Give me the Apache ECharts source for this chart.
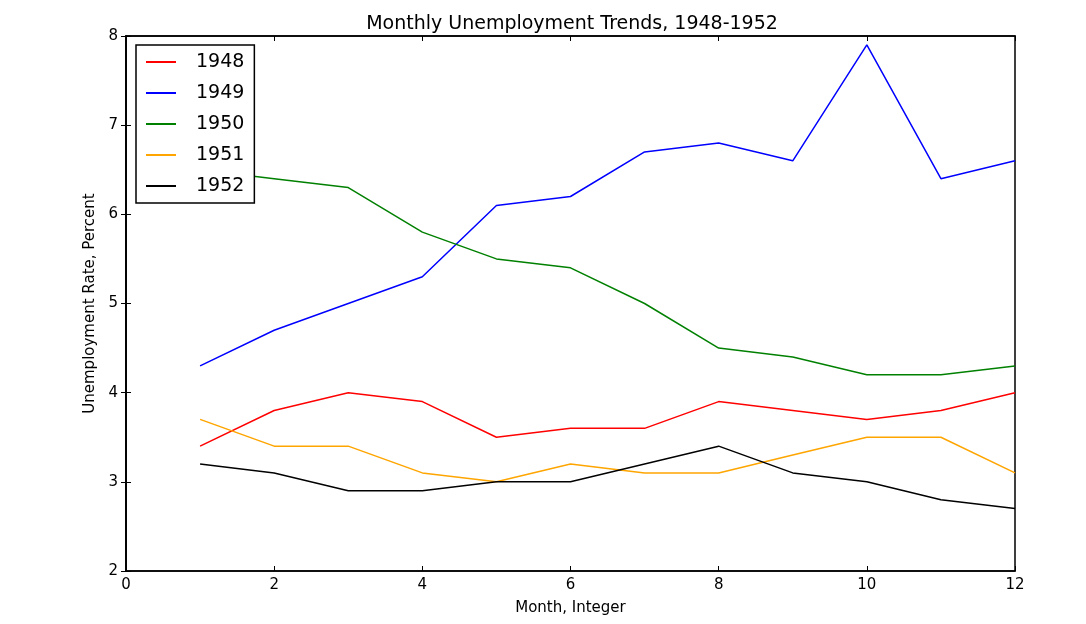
<!DOCTYPE html>
<html>
<head>
<meta charset="utf-8">
<script src="https://cdn.jsdelivr.net/npm/echarts@6/dist/echarts.min.js"></script>
<style>html,body{margin:0;padding:0;background:#fff;}#c{width:1086px;height:624px;}</style>
</head>
<body>
<div id="c"></div>
<script>
const months = [1,2,3,4,5,6,7,8,9,10,11,12];
const years = ['1948','1949','1950','1951','1952'];
const y1948 = [3.4,3.8,4.0,3.9,3.5,3.6,3.6,3.9,3.8,3.7,3.8,4.0];
const y1949 = [4.3,4.7,5.0,5.3,6.1,6.2,6.7,6.8,6.6,7.9,6.4,6.6];
const y1950 = [6.5,6.4,6.3,5.8,5.5,5.4,5.0,4.5,4.4,4.2,4.2,4.3];
const y1951 = [3.7,3.4,3.4,3.1,3.0,3.2,3.1,3.1,3.3,3.5,3.5,3.1];
const y1952 = [3.2,3.1,2.9,2.9,3.0,3.0,3.2,3.4,3.1,3.0,2.8,2.7];
const seriesValues = [y1948,y1949,y1950,y1951,y1952];
const colors = ['#ff0000','#0000ff','#008000','#ffa500','#000000'];

const font = 'DejaVu Sans';
const chart = echarts.init(document.getElementById('c'));
const tickStyle = {show:true, inside:true, length:5, lineStyle:{color:'#000', width:1}};
chart.setOption({
  animation:false,
  backgroundColor:'#fff',
  title:{text:'Monthly Unemployment Trends, 1948-1952', left:567, top:10, textAlign:'center',
    textStyle:{fontFamily:font, fontSize:19, fontWeight:'normal', color:'#000'}},
  grid:{left:126, right:71, top:36, bottom:53, show:true, borderColor:'#000', borderWidth:1.5, backgroundColor:'transparent'},
  legend:{
    data:years, orient:'vertical', left:136, top:45,
    backgroundColor:'#fff', borderColor:'#000', borderWidth:1.5, borderRadius:0,
    padding:[7,10,7,10], itemWidth:30, itemHeight:2, itemGap:11, icon:'rect',
    textStyle:{fontFamily:font, fontSize:19, color:'#000', lineHeight:20, padding:[0,0,0,15]}
  },
  xAxis:[
    {type:'value', min:0, max:12, interval:2, position:'bottom',
     name:'Month, Integer', nameLocation:'middle', nameGap:30,
     nameTextStyle:{fontFamily:font, fontSize:15, color:'#000'},
     axisLine:{show:true, lineStyle:{color:'#000', width:1.5}}, axisTick:tickStyle,
     axisLabel:{fontFamily:font, fontSize:15, color:'#000', margin:7}, splitLine:{show:false}},
    {type:'value', min:0, max:12, interval:2, position:'top',
     axisLine:{show:true, lineStyle:{color:'#000', width:1.5}}, axisTick:tickStyle,
     axisLabel:{show:false}, splitLine:{show:false}}
  ],
  yAxis:[
    {type:'value', min:2, max:8, interval:1, position:'left',
     name:'Unemployment Rate, Percent', nameLocation:'middle', nameGap:26,
     nameTextStyle:{fontFamily:font, fontSize:15, color:'#000'},
     axisLine:{show:true, lineStyle:{color:'#000', width:1.5}}, axisTick:tickStyle,
     axisLabel:{fontFamily:font, fontSize:15, color:'#000', margin:8}, splitLine:{show:false}},
    {type:'value', min:2, max:8, interval:1, position:'right',
     axisLine:{show:true, lineStyle:{color:'#000', width:1.5}}, axisTick:tickStyle,
     axisLabel:{show:false}, splitLine:{show:false}}
  ],
  series: years.map((y,i)=>({
    name:y, type:'line', xAxisIndex:0, yAxisIndex:0,
    data: months.map((m,j)=>[m, seriesValues[i][j]]),
    showSymbol:false, symbol:'none',
    lineStyle:{color:colors[i], width:1.5}, itemStyle:{color:colors[i]},
    emphasis:{disabled:true}
  }))
});
</script>
</body>
</html>
